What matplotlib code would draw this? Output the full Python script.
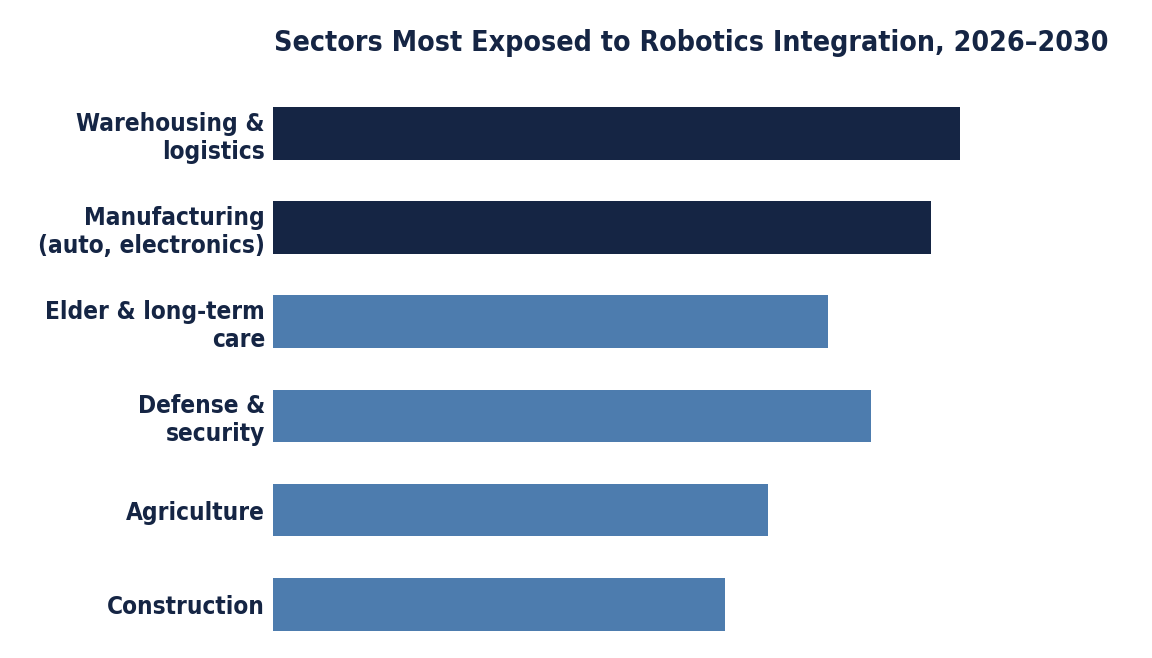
import matplotlib
matplotlib.use("Agg")
import matplotlib.pyplot as plt

sectors = ["Warehousing &\nlogistics", "Manufacturing\n(auto, electronics)",
           "Elder & long-term\ncare", "Defense &\nsecurity",
           "Agriculture", "Construction"]
scores = [91.9, 88.0, 74.2, 80.0, 66.2, 60.5]
top_two = [True, True, False, False, False, False]

navy = "#152544"
steel = "#4d7cae"

fig = plt.figure(figsize=(11.52, 6.58), dpi=100)
ax = fig.add_axes([0.2372, 0.003, 0.724, 0.873])

ypos = list(range(len(sectors)))
colors = [navy if t else steel for t in top_two]
ax.barh(ypos, scores, height=0.56, color=colors)

ax.set_ylim(len(sectors) - 0.45, -0.55)
ax.set_xlim(0, 111.6)
ax.set_yticks(ypos)
ax.set_yticklabels(sectors, fontsize=17.5, fontweight="bold", color=navy,
                   fontstretch="condensed")
ax.tick_params(axis="y", length=0, pad=6)
ax.set_xticks([])
for s in ax.spines.values():
    s.set_visible(False)

fig.text(0.2378, 0.934, "Sectors Most Exposed to Robotics Integration, 2026\u20132030",
         fontsize=20.4, fontweight="bold", color=navy, ha="left", va="center",
         family="DejaVu Sans", fontstretch="condensed")

fig.savefig("out.png", dpi=100)
